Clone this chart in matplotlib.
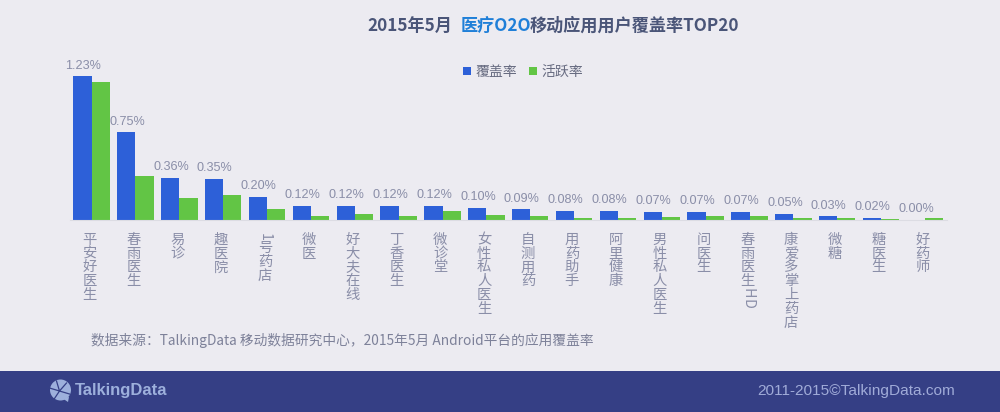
import matplotlib
matplotlib.use("Agg")
import matplotlib.pyplot as plt
from matplotlib.patches import Circle, Polygon, Rectangle
import numpy as np

plt.rcParams['font.family'] = ['Noto Sans CJK SC', 'DejaVu Sans']

# data
apps = ["平安好医生", "春雨医生", "易诊", "趣医院", "1号药店", "微医", "好大夫在线", "丁香医生",
        "微诊堂", "女性私人医生", "自测用药", "用药助手", "阿里健康", "男性私人医生", "问医生",
        "春雨医生HD", "康爱多掌上药店", "微糖", "糖医生", "好药师"]
coverage = [1.23, 0.75, 0.36, 0.35, 0.20, 0.12, 0.12, 0.12, 0.12, 0.10,
            0.09, 0.08, 0.08, 0.07, 0.07, 0.07, 0.05, 0.03, 0.02, 0.00]
active = [1.18, 0.38, 0.19, 0.21, 0.09, 0.03, 0.05, 0.03, 0.08, 0.04,
          0.03, 0.02, 0.017, 0.026, 0.031, 0.037, 0.017, 0.014, 0.012, 0.02]
series_names = ["覆盖率", "活跃率"]

BG = "#ecebf1"
BLUE = "#2d60d8"
GREEN = "#62c545"
GREY = "#8a8ea8"
W, H = 1000, 412

fig = plt.figure(figsize=(10, 4.12), dpi=100, facecolor=BG)

# overlay in pixel coordinates for title, footer and vertical labels
bg = fig.add_axes([0, 0, 1, 1])
bg.set_xlim(0, W)
bg.set_ylim(H, 0)
bg.axis("off")

# chart
ax = fig.add_axes([69.7 / W, 1 - 220 / H, 877.2 / W, 180 / H])
ax.patch.set_alpha(0)
x = np.arange(len(apps))
bw = 0.415
b1 = ax.bar(x - bw / 2, coverage, bw, color=BLUE, label=series_names[0])
b2 = ax.bar(x + bw / 2, active, bw, color=GREEN, label=series_names[1])
ax.set_xlim(-0.5, len(apps) - 0.5)
ax.set_ylim(0, 180 / 116.7)
for s in ["top", "left", "right"]:
    ax.spines[s].set_visible(False)
ax.spines["bottom"].set_color("#dcdce3")
ax.set_xticks([])
ax.set_yticks([])

for i, v in enumerate(coverage):
    ax.annotate("%.2f%%" % v, (x[i] - bw / 2, v), xytext=(0.5, 3.5), textcoords="offset points",
                ha="center", va="bottom", fontsize=9.1, color=GREY, family="Liberation Sans")

ax.legend(loc="center", bbox_to_anchor=(523 / W, 1 - 72 / H), bbox_transform=fig.transFigure,
          ncol=2, frameon=False, fontsize=10, handlelength=0.58, handleheight=0.58,
          handletextpad=0.36, columnspacing=0.8, labelcolor="#666a80", borderpad=0)

# vertical category labels, latin characters turned on their side
for i, name in enumerate(apps):
    cx = 91.7 + i * 43.86 - 2.3
    top = 233
    for ch in name:
        if ch.isdigit():
            adv = 8
        elif ch.isascii():
            adv = 10.5
        else:
            adv = 13.75
        rot = -90 if ch.isascii() else 0
        bg.text(cx, top + adv / 2, ch, ha="center", va="center", rotation=rot,
                fontsize=10.3, color=GREY)
        top += adv

# title in three colours
TITLE = "#4a5578"
bg.text(367, 26, "2015年5月", fontsize=12.3, fontweight="bold", color=TITLE, va="center")
bg.text(461, 26, "医疗O2O", fontsize=12.3, fontweight="bold", color="#1f7fd8", va="center")
bg.text(530, 26, "移动应用用户覆盖率TOP20", fontsize=12.3, fontweight="bold", color=TITLE, va="center")

bg.text(91, 341, "数据来源：TalkingData 移动数据研究中心，2015年5月 Android平台的应用覆盖率",
        fontsize=9.86, color="#7d8199", va="center")

# footer
bg.add_patch(Rectangle((0, 371), W, 41, color="#353f85", lw=0))
LOGO = "#9db0dc"
bg.add_patch(Circle((60.5, 390), 10.5, color=LOGO, lw=0))
bg.add_patch(Polygon([[62, 398], [69, 397], [68, 402]], color=LOGO, lw=0))
for dx, dy in [(-10, -3), (-3, -10), (7, -8), (10, 3), (-6, 9)]:
    bg.plot([59.5, 59.5 + dx], [391, 391 + dy], color="#353f85", lw=0.9)
bg.text(75, 390, "TalkingData", fontsize=12, fontweight="bold", color=LOGO, va="center",
        family="Liberation Sans")
bg.text(955, 391, "2011-2015©TalkingData.com", fontsize=11.1, color="#a0abd8", va="center",
        ha="right", family="Liberation Sans")

fig.savefig("out.png", dpi=100, facecolor=BG)
